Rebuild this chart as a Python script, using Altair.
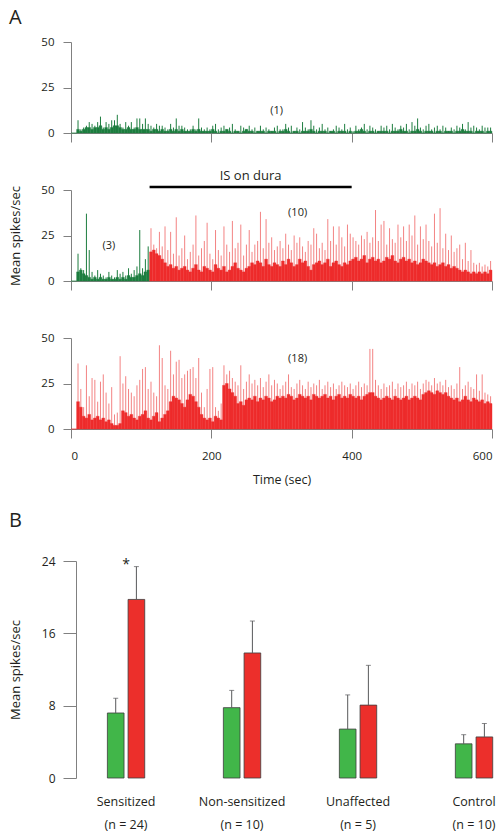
import altair as alt
import pandas as pd

FONT = "Open Sans"
INK = "#231f20"
GRAY = "#808080"
GREEN_A = "#1d7d3f"
RED_A = "#ee2c2c"
PINK_A = "#f38383"
GREEN_B = "#41b649"
RED_B = "#ec2f2b"

# ---------------- Panel A: spike-rate traces, 4-s bins from 0 to 600 s -------------
BIN = 4
# panel 1 (neuron unaffected, all baseline)
p1_body = [0, 0,
           2, 1, 2, 3, 3, 2, 3, 3, 4, 2, 3, 2, 3, 4, 4, 3, 2, 2, 3, 2, 2, 3, 2, 2,
           2, 2, 1, 2, 2, 1, 2, 1, 1, 2, 1, 2, 1, 2, 1, 1, 1, 2, 1, 2, 1, 1, 1, 1, 2,
           1, 0, 1, 1, 2, 1, 0, 1, 1, 0, 1, 2, 1, 1, 0, 1, 1, 1, 0, 1,
           1, 1, 0, 1, 1, 2, 1, 0, 1, 1, 0, 1, 1, 1, 2, 1, 0, 1, 1, 1,
           0, 1, 1, 0, 1, 1, 1, 0, 1, 0, 1, 1, 2, 1, 0, 1, 1, 0, 1, 1,
           1, 1, 0, 1, 1, 1, 2, 1, 1, 0, 1, 1, 2, 1, 0, 1, 1, 1, 0, 1,
           1, 0, 1, 1, 1, 0, 1, 1, 2, 1, 1, 1, 0, 1, 1, 1, 0, 1, 1]
p1_peak = [0, 0,
           7, 2, 3, 4, 6, 5, 4, 6, 9, 3, 6, 5, 7, 7, 10, 5, 3, 6, 4, 6, 3, 8, 8, 5,
           8, 5, 4, 3, 5, 4, 4, 3, 2, 5, 3, 8, 4, 4, 3, 2, 2, 4, 2, 8, 3, 2, 3, 2, 4,
           5, 2, 3, 4, 2, 3, 5, 2, 1, 4, 3, 2, 4, 2, 3, 1, 4, 2, 3, 2,
           1, 3, 4, 2, 2, 5, 3, 4, 1, 3, 2, 6, 3, 2, 7, 4, 2, 3, 5, 2,
           3, 1, 2, 4, 3, 2, 5, 2, 3, 1, 4, 2, 3, 5, 2, 4, 3, 2, 1, 4,
           3, 4, 2, 5, 3, 2, 4, 3, 5, 2, 6, 4, 8, 3, 2, 4, 5, 2, 3, 4,
           2, 4, 3, 1, 3, 2, 4, 3, 5, 2, 6, 3, 4, 3, 2, 4, 3, 3, 3]
# panel 2 (neuron sensitized after IS onset)
p2_body = [0, 0,
           5, 6, 4, 3, 2,
           1, 2, 1, 2, 1, 1, 2, 1, 1, 2, 1, 2, 1, 3, 2, 2, 3, 4, 3, 5, 6,
           16, 17, 15, 14, 12, 10, 8, 9, 7, 8,
           6, 7, 8, 6, 5, 7, 9, 6, 5, 8, 7, 6, 5, 9, 7, 6, 8, 5, 6, 8, 10, 7, 6, 5, 7,
           8, 10, 9, 11, 10, 8, 12, 9, 8, 10, 9, 8,
           11, 9, 12, 10, 8, 9, 12, 10, 11, 8, 6, 9, 10, 11, 9, 10, 12, 8, 10, 11, 9, 8, 10, 9, 11,
           12, 13, 11, 12, 14, 10, 12, 13, 11, 12, 10, 11, 13, 12, 14, 11, 10, 12, 13, 11,
           12, 10, 11, 9, 10, 12, 11, 10, 9, 10, 8, 9, 10, 8, 9, 7, 8, 7,
           6, 5, 6, 5, 4, 5, 4, 5, 4, 5, 4, 6]
p2_peak = [0, 0,
           15, 7, 6, 37, 17,
           5, 3, 6, 4, 3, 2, 5, 3, 2, 6, 4, 5, 3, 7, 4, 6, 8, 28, 7, 12, 19,
           29, 20, 18, 27, 19, 30, 17, 27, 15, 35,
           14, 18, 25, 12, 16, 20, 36, 14, 18, 22, 32, 15, 12, 28, 17, 14, 30, 20, 16, 33,
           18, 21, 31, 14, 20,
           28, 16, 20, 22, 38, 18, 34, 21, 24, 17, 19, 22,
           18, 26, 20, 17, 25, 21, 24, 19, 16, 22, 20, 29, 26, 18, 21, 17, 34, 22, 30, 20,
           30, 24, 19, 31, 26,
           24, 22, 20, 25, 23, 27, 21, 24, 39, 22, 31, 33, 20, 29, 23, 21, 31, 24, 30, 22,
           31, 25, 36, 20, 30, 23, 31, 22, 19, 37, 21, 40, 18, 26, 17, 25, 16, 18,
           20, 12, 21, 11, 17, 10, 9, 10, 8, 9, 8, 11]
# panel 3 (population of 18 sensitized neurons)
p3_body = [0, 0,
           15, 12,
           7, 6, 8, 5, 6, 7, 5, 6, 4, 5, 3,
           2, 2, 3,
           10, 9, 7, 8, 6, 5, 7,
           8, 10, 6, 5, 7, 9, 4, 6, 8, 10,
           15, 18, 17, 16, 14, 12,
           16, 19, 18, 15, 12, 8, 6,
           5, 6, 4, 7, 6, 5,
           24, 25, 22, 20, 18,
           14, 15, 13, 16,
           17, 16, 18, 15, 17, 16, 18, 17, 15, 16, 18, 17,
           18, 17, 19, 18, 16, 17, 19, 18, 17, 18, 16, 19, 18, 17, 18, 19,
           17, 18, 16, 18, 19, 17, 18, 17, 19, 18, 17, 18, 16, 18, 19, 20,
           20, 18, 17, 16, 17, 18, 17, 16, 18, 17, 16, 17, 18, 16, 17, 18, 17, 16,
           19, 20, 21, 20, 19, 21, 20, 19, 20, 18,
           17, 16, 17, 15, 16, 18, 16, 15, 17, 16, 15, 16, 14, 15, 14]
p3_peak = [0, 0,
           36, 22,
           12, 35, 18, 28, 27, 15, 26, 30, 20, 14, 23,
           8, 9, 40,
           25, 29, 22, 20, 18, 24, 27,
           33, 34, 22, 26, 20, 18, 46, 39, 24, 22,
           43, 30, 37, 38, 28, 30,
           32, 33, 34, 28, 39, 20, 12,
           22, 33, 34, 12, 10, 14,
           35, 30, 32, 28, 26,
           24, 35, 22, 26,
           30, 25, 27, 24, 28, 23, 26, 30, 24, 27, 25, 22,
           24, 26, 30, 23, 22, 25, 27, 24, 22, 26, 23, 25, 24, 27, 22, 24,
           26, 23, 25, 22, 24, 26, 24, 23, 25, 22, 24, 26, 23, 25, 24, 44,
           44, 27, 24, 22, 25, 23, 24, 26, 22, 25, 23, 24, 26, 22, 25, 24, 26, 22,
           25, 27, 26, 24, 28, 25, 26, 24, 27, 23,
           24, 22, 25, 34, 22, 24, 26, 23, 22, 30, 21, 30, 20, 19, 18]
for arr in (p1_body, p1_peak, p2_body, p2_peak, p3_body, p3_peak):
    assert len(arr) == 150, len(arr)

# time from which each trace is drawn in red (IS period)
red_from = [9999, 112, 0]
# IS on dura bar
is_start, is_end, is_level = 112, 400, 51.7
is_label, is_label_x, is_label_y = "IS on dura", 256, 57.5
# neuron counts shown in each panel
count_labels = [["(1)"], ["(3)", "(10)"], ["(18)"]]
count_x = [[293], [54, 323], [323]]
count_y = [[12.3], [19.5, 37.4], [38.4]]

# ---------------- Panel B: mean rates -----------------
groups = ["Sensitized", "Non-sensitized", "Unaffected", "Control"]
n_cells = [24, 10, 5, 10]
pre_mean = [7.19, 7.78, 5.41, 3.78]
pre_sem = [1.63, 1.91, 3.78, 1.01]
post_mean = [19.75, 13.83, 8.06, 4.54]
post_sem = [3.63, 3.53, 4.40, 1.49]
signif = ["*", "", "", ""]

W_A, H_A = 421, 91
GAP = 57
W_B, H_B_PLOT = 425, 217
B_TOP_EXTRA = 75           # extra room above panel B (bigger gap than between A panels)
H_B = H_B_PLOT + B_TOP_EXTRA
LEFT = -62                 # left edge of the outer labels, relative to the plot

color_scale = alt.Scale(domain=["pre", "post", "pre_s", "post_s"],
                        range=[GREEN_A, RED_A, GREEN_A, PINK_A])


def panel_df(body, peak, start_red):
    t = [i * BIN for i in range(len(body))]
    return pd.DataFrame({
        "t": t,
        "t2": [v + BIN for v in t],
        "tm": [v + BIN / 2 for v in t],
        "body": body,
        "peak": peak,
        "seg": ["post" if v >= start_red else "pre" for v in t],
        "seg_s": ["post_s" if v >= start_red else "pre_s" for v in t],
    })


def make_panel(idx, body, peak, last, ytitle):
    df = panel_df(body, peak, red_from[idx])
    xs = alt.Scale(domain=[0, 600], nice=False, zero=False)
    ys = alt.Scale(domain=[0, 50], nice=False)
    if last:
        xax = alt.Axis(values=[0, 200, 400, 600], tickSize=9, labelPadding=12,
                       labelFontSize=11.5, title="Time (sec)", titleFontSize=12.5,
                       titlePadding=12, grid=False)
    else:
        xax = alt.Axis(values=[0, 200, 400, 600], tickSize=9, labels=False,
                       title=None, grid=False)
    if ytitle:
        yax = alt.Axis(values=[0, 25, 50], tickSize=8, labelPadding=9,
                       labelFontSize=11.5, title=ytitle, titleFontSize=13,
                       titleX=LEFT, titleY=H_A / 2, titleAngle=270,
                       titleBaseline="top", titleAlign="center", grid=False)
    else:
        yax = alt.Axis(values=[0, 25, 50], tickSize=8, labelPadding=9,
                       labelFontSize=11.5, title=None, grid=False)
    base = alt.Chart(df)
    spikes = base.mark_rule(strokeWidth=1).encode(
        x=alt.X("tm:Q", scale=xs, axis=xax),
        y=alt.Y("peak:Q", scale=ys, axis=yax),
        y2=alt.datum(0),
        color=alt.Color("seg_s:N", scale=color_scale, legend=None),
    )
    fill = base.mark_rect(strokeWidth=0.4).encode(
        x=alt.X("t:Q", scale=xs, axis=xax),
        x2="t2:Q",
        y=alt.Y("body:Q", scale=ys, axis=yax),
        y2=alt.datum(0),
        color=alt.Color("seg:N", scale=color_scale, legend=None),
        stroke=alt.Color("seg:N", scale=color_scale, legend=None),
    )
    ann = pd.DataFrame({"x": count_x[idx], "y": count_y[idx], "label": count_labels[idx]})
    texts = alt.Chart(ann).mark_text(fontSize=11, color=INK, font=FONT).encode(
        x=alt.X("x:Q", scale=xs, axis=xax),
        y=alt.Y("y:Q", scale=ys, axis=yax),
        text="label:N",
    )
    layers = [spikes, fill, texts]
    if idx == 1:
        isdf = pd.DataFrame({"s": [is_start], "e": [is_end], "lv": [is_level],
                             "lx": [is_label_x], "ly": [is_label_y], "lab": [is_label]})
        bar = alt.Chart(isdf).mark_rule(strokeWidth=2.5, color="black").encode(
            x=alt.X("s:Q", scale=xs, axis=xax), x2="e:Q",
            y=alt.Y("lv:Q", scale=ys, axis=yax))
        lab = alt.Chart(isdf).mark_text(fontSize=13, color=INK, font=FONT).encode(
            x=alt.X("lx:Q", scale=xs, axis=xax),
            y=alt.Y("ly:Q", scale=ys, axis=yax), text="lab:N")
        layers += [bar, lab]
    return alt.layer(*layers).properties(width=W_A, height=H_A)


a1 = make_panel(0, p1_body, p1_peak, False, None).properties(
    title=alt.TitleParams("A", anchor="start", frame="group", dx=LEFT, fontSize=20,
                          fontWeight="normal", font=FONT, color=INK, offset=8))
a2 = make_panel(1, p2_body, p2_peak, False, "Mean spikes/sec")
a3 = make_panel(2, p3_body, p3_peak, True, None)

# panel B data
rows = []
for g, n, pm, ps, qm, qs in zip(groups, n_cells, pre_mean, pre_sem, post_mean, post_sem):
    lab = f"{g}|(n = {n})"
    rows.append({"glabel": lab, "period": "before", "mean": pm, "upper": pm + ps})
    rows.append({"glabel": lab, "period": "during", "mean": qm, "upper": qm + qs})
dfB = pd.DataFrame(rows)
glabels = [f"{g}|(n = {n})" for g, n in zip(groups, n_cells)]
sigdf = pd.DataFrame({"glabel": [l for l, s in zip(glabels, signif) if s],
                      "y": [24.0 for s in signif if s],
                      "s": [s for s in signif if s]})

xB = alt.X("glabel:N", sort=glabels,
           scale=alt.Scale(paddingInner=0.678, paddingOuter=0.171, align=0.917),
           axis=alt.Axis(title=None, domain=False, ticks=False, labelAngle=0,
                         labelExpr="split(datum.value, '|')", labelFontSize=12.5,
                         labelPadding=17, labelLineHeight=23))
xoB = alt.XOffset("period:N", sort=["before", "during"],
                  scale=alt.Scale(paddingInner=0.195, paddingOuter=0))
ysB = alt.Scale(domain=[0, 24], nice=False, range=[H_B, B_TOP_EXTRA])
yaxB = alt.Axis(values=[0, 8, 16, 24], tickSize=13, labelPadding=8, labelFontSize=12,
                offset=-5, title="Mean spikes/sec", titleFontSize=13, titleX=LEFT - 5,
                titleY=B_TOP_EXTRA + H_B_PLOT / 2, titleAngle=270, titleBaseline="top",
                titleAlign="center", grid=False)

bars = alt.Chart(dfB).mark_bar(stroke="#3c3c3c", strokeWidth=0.8).encode(
    x=xB, xOffset=xoB,
    y=alt.Y("mean:Q", scale=ysB, axis=yaxB),
    color=alt.Color("period:N",
                    scale=alt.Scale(domain=["before", "during"], range=[GREEN_B, RED_B]),
                    legend=None),
)
errs = alt.Chart(dfB).mark_rule(color="#58595b", strokeWidth=1).encode(
    x=xB, xOffset=xoB, y=alt.Y("mean:Q", scale=ysB, axis=yaxB), y2="upper:Q")
caps = alt.Chart(dfB).mark_tick(orient="horizontal", size=5, thickness=1, color="#58595b").encode(
    x=xB, xOffset=xoB, y=alt.Y("upper:Q", scale=ysB, axis=yaxB))
star = alt.Chart(sigdf).mark_text(fontSize=14, color=INK, font=FONT, dy=4).encode(
    x=xB, y=alt.Y("y:Q", scale=ysB, axis=yaxB), text="s:N")

b = alt.layer(bars, errs, caps, star).properties(
    width=W_B, height=H_B,
    title=alt.TitleParams("B", anchor="start", frame="group", dx=LEFT, dy=45, fontSize=20,
                          fontWeight="normal", font=FONT, color=INK, offset=0))

chart = alt.vconcat(a1, a2, a3, b, spacing=GAP, bounds="flush").properties(
    padding={"left": 0, "top": 0, "right": 0, "bottom": 0}
).resolve_scale(color="independent").configure_view(stroke=None).configure_axis(
    labelFont=FONT, titleFont=FONT, labelColor=INK, titleColor=INK,
    domainColor=GRAY, tickColor=GRAY, titleFontWeight="normal", grid=False
).configure_title(font=FONT, fontWeight="normal")

chart.save("out.html", embed_options={"renderer": "svg", "actions": False})
